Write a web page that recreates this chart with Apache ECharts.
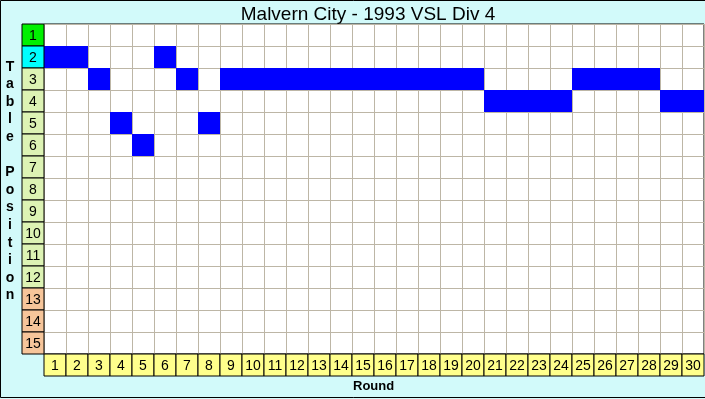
<!DOCTYPE html>
<html>
<head>
<meta charset="utf-8">
<script src="https://cdn.jsdelivr.net/npm/echarts@6/dist/echarts.min.js"></script>
<style>
  html, body { margin: 0; padding: 0; background: #d2fafa; }
  #chart { width: 705px; height: 399px; }
</style>
</head>
<body>
<div id="chart"></div>
<script>
// data
var rounds = ['1','2','3','4','5','6','7','8','9','10','11','12','13','14','15',
              '16','17','18','19','20','21','22','23','24','25','26','27','28','29','30'];
var positions = ['1','2','3','4','5','6','7','8','9','10','11','12','13','14','15'];
var tablePosition = [2,2,3,5,6,2,3,5,3,3,3,3,3,3,3,3,3,3,3,3,4,4,4,4,3,3,3,3,4,4];

var chartTitle = 'Malvern City - 1993 VSL Div 4';
var xName = 'Round';
var yName = 'Table Position';

function posColor(p) {
    if (p === 1) return '#00f000';
    if (p === 2) return '#00ffff';
    if (p <= 12) return '#ddf3b4';
    return '#f6c59a';
}

var myChart = echarts.init(document.getElementById('chart'));

var cellData = tablePosition.map(function (p, i) { return [i, p - 1]; });
var yBoxData = positions.map(function (p, i) { return [0, i]; });
var xBoxData = rounds.map(function (r, i) { return [i, 0]; });

// draws one cell of a category grid, with an optional black frame and label
function boxItem(fill, text) {
    return function (params, api) {
        var c = api.coord([api.value(0), api.value(1)]);
        var s = api.size([1, 1]);
        var f = typeof fill === 'function' ? fill(params.dataIndex) : fill;
        var t = text ? text(params.dataIndex) : null;
        var children = [{
            type: 'rect',
            shape: { x: c[0] - s[0] / 2, y: c[1] - s[1] / 2, width: s[0], height: s[1] },
            style: { fill: f, stroke: t ? '#000' : null, lineWidth: 1 }
        }];
        if (t) {
            children.push({
                type: 'text',
                style: {
                    text: t, x: c[0], y: c[1] + 1, align: 'center', verticalAlign: 'middle',
                    font: '14px "Liberation Sans", Arial, sans-serif', fill: '#000'
                }
            });
        }
        return { type: 'group', children: children };
    };
}

var option = {
    backgroundColor: '#d2fafa',
    animation: false,
    title: {
        text: chartTitle,
        left: 363,
        top: 0,
        textAlign: 'center',
        textStyle: { fontFamily: 'Liberation Sans', fontSize: 19, fontWeight: 'normal', color: '#000' }
    },
    grid: [
        { left: 44, top: 24, width: 660, height: 330, show: true, backgroundColor: '#fff',
          borderColor: '#000', borderWidth: 1 },
        { left: 22, top: 24, width: 22, height: 330 },
        { left: 44, top: 354, width: 660, height: 22 }
    ],
    xAxis: [
        { gridIndex: 0, type: 'category', data: rounds, axisLine: { show: false }, axisTick: { show: false },
          axisLabel: { show: false }, splitLine: { show: true, interval: 0, lineStyle: { color: '#bdb6a6', width: 1 } } },
        { gridIndex: 1, type: 'category', data: [''], show: false },
        { gridIndex: 2, type: 'category', data: rounds, show: false }
    ],
    yAxis: [
        { gridIndex: 0, type: 'category', data: positions, inverse: true, axisLine: { show: false },
          axisTick: { show: false }, axisLabel: { show: false },
          splitLine: { show: true, interval: 0, lineStyle: { color: '#bdb6a6', width: 1 } } },
        { gridIndex: 1, type: 'category', data: positions, inverse: true, show: false },
        { gridIndex: 2, type: 'category', data: [''], show: false }
    ],
    series: [
        {
            type: 'custom', xAxisIndex: 0, yAxisIndex: 0,
            renderItem: boxItem('#0000ff'),
            data: cellData
        },
        {
            type: 'custom', xAxisIndex: 1, yAxisIndex: 1,
            renderItem: boxItem(function (i) { return posColor(i + 1); }, function (i) { return positions[i]; }),
            data: yBoxData
        },
        {
            type: 'custom', xAxisIndex: 2, yAxisIndex: 2,
            renderItem: boxItem('#ffff8c', function (i) { return rounds[i]; }),
            data: xBoxData
        }
    ],
    graphic: [
        {
            type: 'rect', silent: true, z: 100,
            shape: { x: 0.5, y: 0.5, width: 720, height: 397 },
            style: { fill: null, stroke: '#000', lineWidth: 1 }
        },
        {
            type: 'text', left: 353, top: 380,
            style: { text: xName, font: 'bold 13px "Liberation Sans", Arial, sans-serif', fill: '#000' }
        },
        {
            type: 'text', x: 10, y: 58,
            style: {
                text: yName.split('').join('\n'),
                font: 'bold 14px "Liberation Sans", Arial, sans-serif',
                fill: '#000', align: 'center', lineHeight: 17.6
            }
        }
    ]
};

myChart.setOption(option);
</script>
</body>
</html>
